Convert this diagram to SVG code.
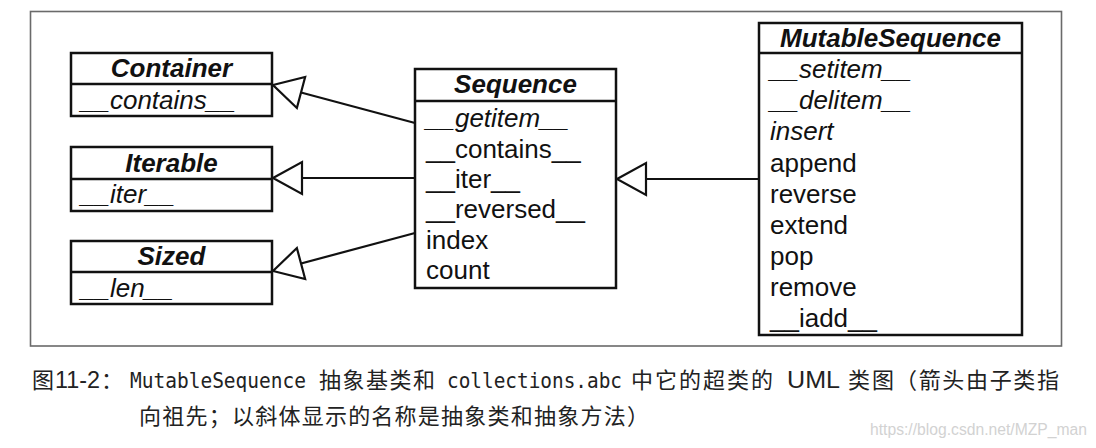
<svg xmlns="http://www.w3.org/2000/svg" width="1096" height="448" viewBox="0 0 1096 448">
  <style>
    .box { fill: #ffffff; stroke: #111111; stroke-width: 2.5; }
    .div { stroke: #111111; stroke-width: 2.5; }
    .title { font-family: "Liberation Sans", Arial, sans-serif; font-size: 26px; font-weight: bold; font-style: italic; fill: #111111; text-anchor: middle; }
    .m { font-family: "Liberation Sans", Arial, sans-serif; font-size: 26px; fill: #111111; }
    .i { font-style: italic; }
    .conn { fill: none; stroke: #111111; stroke-width: 2.2; }
    .cap { font-family: "Noto Sans CJK SC", "Noto Sans", sans-serif; font-size: 22px; fill: #222222; }
    .lat { font-family: "Liberation Sans", Arial, sans-serif; font-size: 23px; fill: #222222; }
    .mono { font-family: "DejaVu Sans Mono", "Liberation Mono", monospace; font-size: 21px; fill: #222222; }
    .wm { font-family: "Liberation Sans", Arial, sans-serif; font-size: 16px; fill: #d2d2d2; }
  </style>
  <defs>
    <marker id="gen" markerUnits="userSpaceOnUse" viewBox="-3 -19 35 38" refX="0" refY="0" markerWidth="35" markerHeight="38" orient="auto" overflow="visible">
      <path d="M0,0 L29,-16 L29,16 Z" fill="#ffffff" stroke="#111111" stroke-width="2.2" stroke-linejoin="miter"/>
    </marker>
  </defs>
  <rect width="1096" height="448" fill="#ffffff"/>
  <rect x="30.5" y="11.5" width="1031" height="334.5" fill="none" stroke="#6a6a6a" stroke-width="1.6"/>

  <g id="connectors">
    <path class="conn" d="M273,85 L415,123" marker-start="url(#gen)"/>
    <path class="conn" d="M273,178 L415,178" marker-start="url(#gen)"/>
    <path class="conn" d="M273,271 L415,233" marker-start="url(#gen)"/>
    <path class="conn" d="M617,179 L759,179" marker-start="url(#gen)"/>
  </g>

  <g id="container">
    <rect class="box" x="71" y="53" width="201" height="63"/>
    <line class="div" x1="71" y1="84" x2="272" y2="84"/>
    <text class="title" x="171.5" y="77">Container</text>
    <text class="m i" x="81" y="109">__contains__</text>
  </g>

  <g id="iterable">
    <rect class="box" x="71" y="147" width="201" height="64"/>
    <line class="div" x1="71" y1="179" x2="272" y2="179"/>
    <text class="title" x="171.5" y="172">Iterable</text>
    <text class="m i" x="81" y="203">__iter__</text>
  </g>

  <g id="sized">
    <rect class="box" x="71" y="241" width="201" height="63"/>
    <line class="div" x1="71" y1="272" x2="272" y2="272"/>
    <text class="title" x="171.5" y="265">Sized</text>
    <text class="m i" x="81" y="297">__len__</text>
  </g>

  <g id="sequence">
    <rect class="box" x="415" y="69" width="201" height="219"/>
    <line class="div" x1="415" y1="101" x2="616" y2="101"/>
    <text class="title" x="515.5" y="93">Sequence</text>
    <text class="m i" x="426" y="127">__getitem__</text>
    <text class="m" x="426" y="157.5">__contains__</text>
    <text class="m" x="426" y="188">__iter__</text>
    <text class="m" x="426" y="218">__reversed__</text>
    <text class="m" x="426" y="249">index</text>
    <text class="m" x="426" y="279">count</text>
  </g>

  <g id="mutablesequence">
    <rect class="box" x="759" y="23" width="263" height="312"/>
    <line class="div" x1="759" y1="53" x2="1022" y2="53"/>
    <text class="title" x="890.5" y="47">MutableSequence</text>
    <text class="m i" x="770" y="78">__setitem__</text>
    <text class="m i" x="770" y="109">__delitem__</text>
    <text class="m i" x="770" y="140">insert</text>
    <text class="m" x="770" y="171.5">append</text>
    <text class="m" x="770" y="202.5">reverse</text>
    <text class="m" x="770" y="233.5">extend</text>
    <text class="m" x="770" y="265">pop</text>
    <text class="m" x="770" y="296">remove</text>
    <text class="m" x="770" y="327">__iadd__</text>
  </g>

  <g id="caption">
    <text class="cap" x="32" y="388">图</text>
    <text class="lat" x="55" y="388" textLength="45" lengthAdjust="spacingAndGlyphs">11-2</text>
    <text class="cap" x="101" y="388">：</text>
    <text class="mono" x="130" y="388" textLength="176" lengthAdjust="spacingAndGlyphs">MutableSequence</text>
    <text class="cap" x="319" y="388" textLength="116">抽象基类和</text>
    <text class="mono" x="447" y="388" textLength="175" lengthAdjust="spacingAndGlyphs">collections.abc</text>
    <text class="cap" x="631" y="388" textLength="142">中它的超类的</text>
    <text class="lat" x="787" y="388" textLength="53" lengthAdjust="spacingAndGlyphs">UML</text>
    <text class="cap" x="848" y="388" textLength="46">类图</text>
    <text class="cap" x="895" y="388" textLength="164">（箭头由子类指</text>
    <text class="cap" x="139" y="424" textLength="510">向祖先；以斜体显示的名称是抽象类和抽象方法）</text>
  </g>
  <text class="wm" x="870" y="435" textLength="217" lengthAdjust="spacingAndGlyphs">https://blog.csdn.net/MZP_man</text>
</svg>
